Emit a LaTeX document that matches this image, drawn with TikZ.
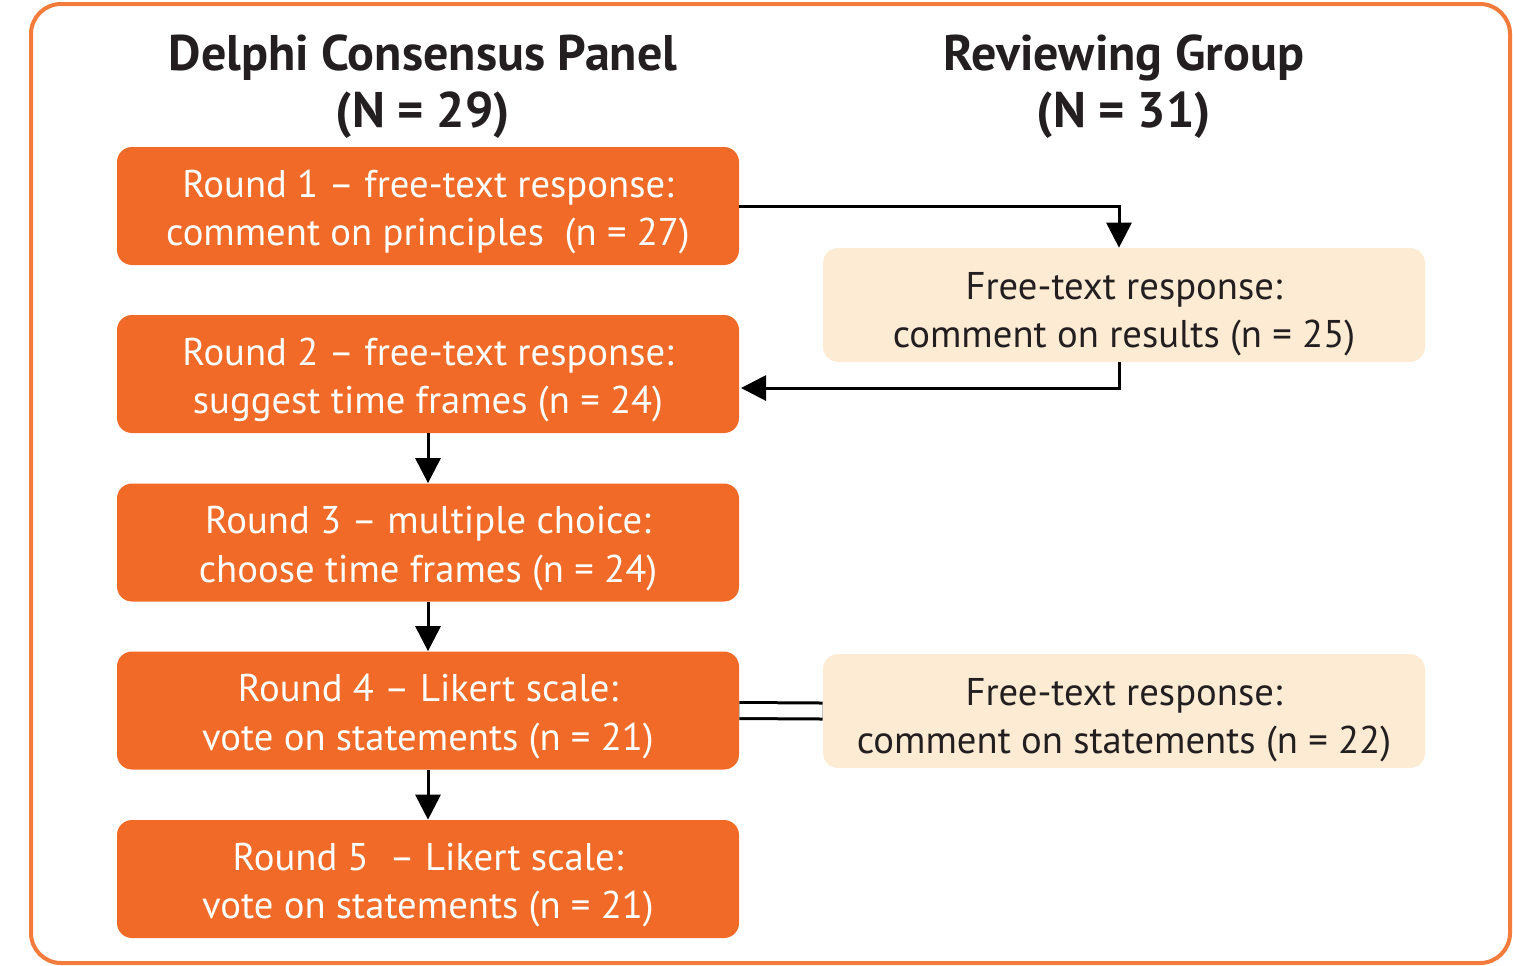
\documentclass[tikz,border=0pt]{standalone}
\usepackage{fontspec}
\setmainfont{PT Sans}
\usetikzlibrary{arrows.meta,positioning}
\definecolor{delphi}{HTML}{F26A27}
\definecolor{frameor}{HTML}{F37B3B}
\definecolor{review}{HTML}{FDEBD3}
\definecolor{inkdark}{HTML}{231F20}
\begin{document}
\begin{tikzpicture}[x=0.02cm, y=-0.02cm,
       round/.style={fill=delphi, text=white, minimum width=622*0.02cm,
             minimum height=118*0.02cm, align=center, rounded corners=0.3cm,
             font=\fontsize{22}{27.5}\selectfont, inner sep=0pt,
             execute at begin node=\rule{0pt}{50pt}},
       reply/.style={fill=review, text=inkdark, minimum width=602*0.02cm,
             minimum height=114*0.02cm, align=center, rounded corners=0.3cm,
             font=\fontsize{22}{27.5}\selectfont, inner sep=0pt,
             execute at begin node=\rule{0pt}{53pt}},
       head/.style={align=center, font=\bfseries\fontsize{28.5}{32.5}\selectfont, text=inkdark},
       link/.style={line width=0.06cm, -{Triangle[width=0.5cm, length=0.5cm]}}]
\useasboundingbox (0,0) rectangle (1513,965);
\draw[frameor, line width=0.08cm, rounded corners=0.6cm] (31,4) rectangle (1510,963);
% headings
\node[head] (panel) at (423,87) {Delphi Consensus Panel\\(N = 29)};
\node[head] (group) at (1124,87) {Reviewing Group\\(N = 31)};
% rounds
\node[round] (r1) at (428,206) {Round 1 -- free-text response:\\comment on principles~~(n = 27)};
\node[round] (r2) at (428,374) {Round 2 -- free-text response:\\suggest time frames (n = 24)};
\node[round] (r3) at (428,542.5) {Round 3 -- multiple choice:\\choose time frames (n = 24)};
\node[round] (r4) at (428,710.5) {Round 4 -- Likert scale:\\vote on statements (n = 21)};
\node[round] (r5) at (428,879) {Round 5~~-- Likert scale:\\vote on statements (n = 21)};
% reviewing group
\node[reply] (f1) at (1124,305) {Free-text response:\\comment on results (n = 25)};
\node[reply] (f2) at (1124,711) {Free-text response:\\comment on statements (n = 22)};
% connectors
\coordinate (back) at (741,388);
\draw[link] (r1.east) -| (f1.north -| 1119,0);
\draw[link] (f1.south -| 1119,0) |- (back);
\draw[link] (r2) -- (r3);
\draw[link] (r3) -- (r4);
\draw[link] (r4) -- (r5);
\draw[line width=0.06cm, double distance=0.26cm] (r4.east) -- (f2.west);
\end{tikzpicture}
\end{document}
